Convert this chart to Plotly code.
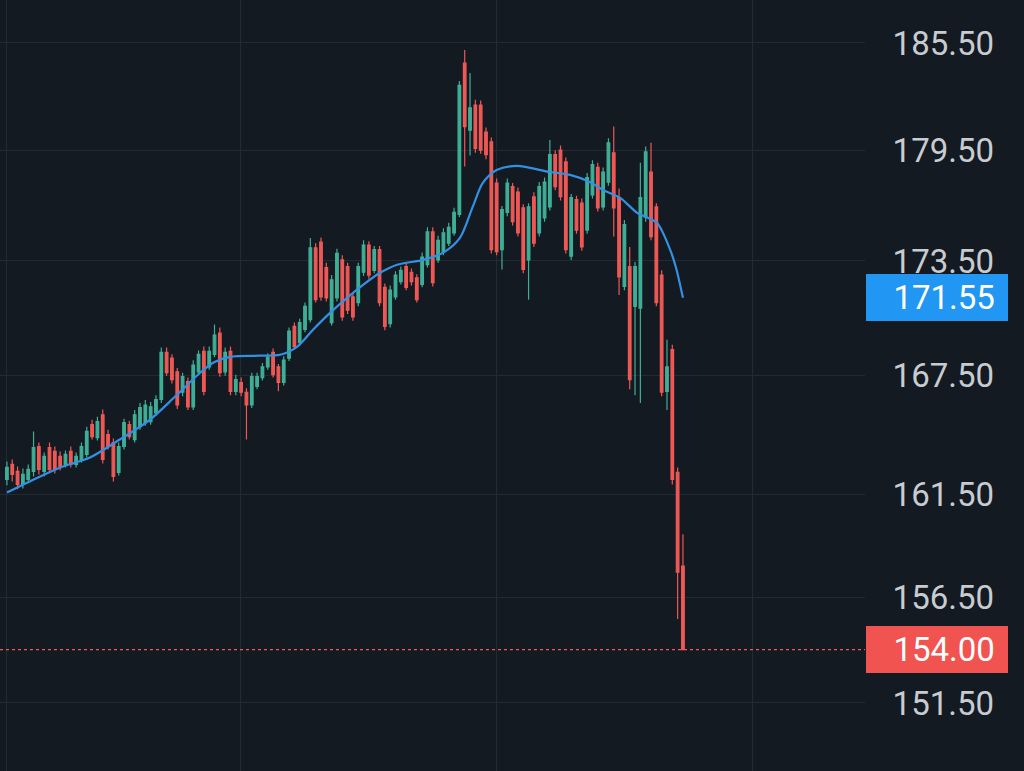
import math
import plotly.graph_objects as go

# ---------------- data ----------------
idx = list(range(128))

open_ = [162.25, 163.0, 162.65, 162.0, 162.25, 162.65, 163.9, 162.65, 163.85, 163.65,
         163.4, 163.0, 163.65, 163.0, 163.25, 163.5, 165.0, 164.35, 165.5, 164.5,
         164.1, 162.6, 163.9, 165.0, 164.25, 164.9, 165.1, 165.15, 165.6, 166.28,
         168.7, 168.4, 167.7, 166.65, 167.2, 165.9, 167.7, 168.75, 167.95, 168.6,
         169.7, 167.7, 168.75, 166.7, 167.15, 166.65, 166.0, 166.95, 167.4, 167.95,
         168.7, 167.95, 167.15, 168.4, 170.05, 169.2, 169.9, 170.4, 174.2, 174.5,
         173.15, 170.25, 171.55, 173.56, 173.2, 171.6, 171.3, 172.9, 174.35, 173.0,
         174.1, 172.1, 170.2, 171.6, 172.4, 173.2, 172.9, 172.6, 172.25, 173.3,
         175.05, 173.55, 173.95, 174.45, 175.0, 176.0, 184.35, 180.6, 182.0, 182.0,
         180.5, 179.95, 177.7, 174.1, 176.1, 177.5, 177.2, 176.35, 173.55, 176.95,
         175.0, 175.8, 176.4, 179.25, 179.5, 178.85, 173.75, 176.8, 176.6, 175.15,
         177.05, 178.55, 176.4, 177.75, 179.35, 176.9, 172.15, 173.2, 171.1, 171.0,
         175.85, 178.3, 176.4, 172.75, 166.7, 168.85, 162.6, 158.0]

high = [163.15, 163.25, 162.9, 162.8, 163.0, 164.66, 164.1, 163.6, 164.1, 163.9,
        163.65, 163.7, 163.9, 163.6, 164.1, 164.9, 165.25, 165.4, 165.77, 164.75,
        164.3, 164.1, 165.3, 165.2, 165.75, 166.1, 166.25, 166.15, 166.5, 168.95,
        168.95, 168.6, 167.9, 167.65, 167.4, 168.3, 168.8, 169.0, 169.0, 170.15,
        170.0, 168.95, 169.0, 167.55, 167.4, 166.85, 167.65, 167.65, 168.15, 168.65,
        168.9, 168.1, 168.5, 170.0, 170.25, 170.45, 171.3, 174.73, 174.45, 174.75,
        173.4, 172.75, 174.15, 173.8, 173.4, 171.8, 173.4, 174.6, 174.55, 174.3,
        174.3, 172.3, 172.2, 172.95, 173.2, 173.4, 173.1, 172.8, 173.95, 175.3,
        175.3, 174.85, 175.25, 175.55, 176.35, 183.35, 185.1, 183.8, 182.3, 182.25,
        180.75, 180.2, 177.95, 176.45, 177.95, 177.7, 177.45, 176.55, 176.6, 177.2,
        177.75, 178.0, 180.06, 179.5, 179.75, 179.1, 177.1, 177.0, 176.85, 178.25,
        178.95, 178.8, 178.55, 180.15, 180.8, 177.4, 175.7, 174.25, 173.45, 178.8,
        179.7, 179.9, 176.6, 173.0, 169.35, 169.1, 162.85, 159.55]

low = [161.96, 162.15, 161.76, 161.8, 162.1, 162.4, 162.5, 162.4, 162.6, 162.55,
       162.7, 162.85, 162.85, 162.85, 163.1, 163.35, 164.25, 164.2, 163.05, 163.75,
       162.15, 162.45, 163.75, 164.25, 164.1, 164.75, 164.95, 165.0, 165.45, 166.1,
       167.5, 167.1, 165.8, 166.45, 165.75, 165.75, 167.55, 166.5, 167.8, 168.45,
       167.45, 167.5, 166.5, 166.5, 166.45, 164.25, 165.85, 166.8, 167.25, 167.8,
       167.4, 166.7, 167.0, 168.25, 168.85, 169.05, 169.75, 170.25, 171.3, 171.4,
       171.35, 170.1, 171.35, 170.35, 170.7, 170.35, 171.1, 172.7, 172.55, 172.85,
       171.1, 169.85, 170.0, 171.45, 172.25, 171.95, 172.2, 171.3, 172.1, 173.15,
       172.15, 173.4, 173.8, 174.3, 174.85, 175.85, 178.6, 179.2, 179.35, 179.3,
       179.0, 173.9, 173.8, 173.05, 175.9, 175.4, 174.8, 172.85, 171.45, 174.25,
       174.8, 175.6, 176.2, 177.3, 176.75, 173.9, 173.55, 174.95, 174.05, 174.95,
       176.85, 176.15, 176.2, 177.55, 174.8, 171.7, 171.95, 166.8, 166.5, 166.1,
       175.6, 174.6, 171.1, 166.45, 165.75, 162.0, 155.45, 154.0]

close = [162.85, 162.5, 162.0, 162.5, 162.75, 163.85, 162.75, 163.4, 162.75, 162.75,
         162.9, 163.5, 163.0, 163.4, 163.9, 164.66, 164.4, 165.16, 163.25, 163.9,
         162.4, 163.9, 165.1, 164.4, 165.5, 165.87, 166.0, 165.9, 166.28, 168.7,
         167.65, 167.3, 166.0, 167.45, 165.9, 168.05, 168.6, 166.7, 168.75, 169.6,
         167.65, 168.7, 166.7, 167.3, 166.65, 166.0, 167.45, 167.45, 167.95, 168.45,
         167.55, 167.15, 168.3, 169.8, 169.0, 170.25, 171.1, 174.2, 171.45, 171.6,
         171.55, 172.5, 173.9, 170.55, 170.9, 170.55, 173.2, 174.35, 172.75, 174.1,
         171.3, 170.05, 171.95, 172.75, 173.0, 172.1, 172.4, 171.45, 173.7, 175.05,
         172.35, 174.6, 175.0, 175.3, 176.1, 183.1, 180.8, 181.85, 179.6, 179.5,
         179.25, 174.1, 174.0, 176.25, 177.7, 175.6, 175.0, 173.05, 176.4, 174.45,
         177.5, 177.75, 179.25, 177.5, 176.95, 174.1, 176.9, 175.15, 174.25, 178.0,
         178.7, 176.35, 178.3, 179.9, 176.35, 172.65, 175.45, 167.3, 173.2, 176.9,
         179.4, 174.8, 171.3, 166.65, 167.95, 162.25, 157.7, 154.0]

# moving-average line
ma_x = [0, 4.3, 10, 15.6, 21.2, 26.9, 31.6, 36.3, 39, 41.9, 47.5, 51.3, 54.5, 57.5,
        60.7, 63.9, 66.9, 70.1, 73.3, 78.2, 81.9, 85.1, 87.5, 89.4, 92, 95.8, 102,
        105.8, 109.5, 112, 115.2, 118.4, 122.1, 124.6, 125.7, 127]
ma_val = [161.6, 162.15, 162.85, 163.35, 164.25, 165.26, 166.43, 167.65, 168.2, 168.47,
          168.53, 168.58, 168.99, 169.88, 170.76, 171.55, 172.23, 172.87, 173.3, 173.56,
          173.93, 174.73, 176.4, 177.7, 178.41, 178.63, 178.3, 178.14, 177.75, 177.32,
          176.89, 176.08, 175.54, 174.09, 173.14, 171.55]

tick_vals = [151.5, 156.5, 161.5, 167.5, 173.5, 179.5, 185.5]
tick_text = ["151.50", "156.50", "161.50", "167.50", "173.50", "179.50", "185.50"]
vgrid = [0, 43.8, 92, 140]

last_price = close[-1]
ma_last = ma_val[-1]

# ---------------- style ----------------
BG = "#131a21"
GRID = "#222a33"
UP = "#3fae96"
DOWN = "#ee5855"
BLUE = "#3391e4"
LABEL_BLUE = "#2196f3"
LABEL_RED = "#f05350"
TXT = "#c8ccd1"
X_RANGE = [-1.3, 161.2]
Y_RANGE = [math.log10(148.37), math.log10(187.96)]

fig = go.Figure()

fig.add_trace(go.Candlestick(
    x=idx, open=open_, high=high, low=low, close=close,
    increasing=dict(line=dict(color=UP, width=1.2), fillcolor=UP),
    decreasing=dict(line=dict(color=DOWN, width=1.2), fillcolor=DOWN),
    whiskerwidth=0, showlegend=False, hoverinfo="skip",
))

fig.add_trace(go.Scatter(
    x=ma_x, y=ma_val, mode="lines",
    line=dict(color=BLUE, width=2.2, shape="spline", smoothing=0.8),
    showlegend=False, hoverinfo="skip",
))

fig.add_trace(go.Scatter(
    x=X_RANGE, y=[last_price, last_price], mode="lines",
    line=dict(color=DOWN, width=1.3, dash="dot"),
    showlegend=False, hoverinfo="skip",
))

fig.update_layout(
    width=1024, height=771,
    margin=dict(l=0, r=159, t=0, b=0),
    paper_bgcolor=BG, plot_bgcolor=BG,
    font=dict(family="Roboto, 'Noto Sans', sans-serif", color=TXT),
    showlegend=False,
    xaxis=dict(
        range=X_RANGE, tickvals=vgrid, showticklabels=False,
        showgrid=True, gridcolor=GRID, gridwidth=1, zeroline=False,
        showline=False, ticks="", rangeslider=dict(visible=False),
    ),
    yaxis=dict(
        type="log", side="right", range=Y_RANGE,
        tickvals=tick_vals, ticktext=tick_text,
        tickfont=dict(size=33, color=TXT, family="Roboto"),
        showgrid=True, gridcolor=GRID, gridwidth=1, zeroline=False,
        showline=False, ticks="outside", ticklen=20, tickcolor="rgba(0,0,0,0)",
    ),
)

def price_label(value, color):
    fig.add_annotation(
        xref="paper", x=1.0, xanchor="left", xshift=1,
        yref="y", y=math.log10(value), yanchor="middle",
        text=f"{value:.2f}&nbsp;", showarrow=False,
        font=dict(size=33, color="#ffffff", family="Roboto"),
        bgcolor=color, borderpad=5, borderwidth=0,
        width=132, height=37, align="right",
    )

price_label(ma_last, LABEL_BLUE)
price_label(last_price, LABEL_RED)

fig.write_html(
    "out.html",
    config={"displayModeBar": False},
    post_script="document.body.style.margin='0';document.body.style.overflow='hidden';",
)
